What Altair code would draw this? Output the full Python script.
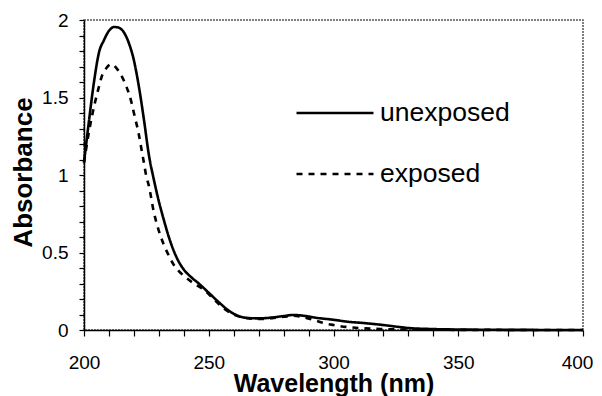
import altair as alt
import pandas as pd

# Unexposed spectrum (wavelength nm, absorbance)
wl_unexp = [200, 202, 204, 206, 208, 210, 212, 214, 216, 218, 220, 222, 224, 226, 228,
            230, 232, 234, 236, 238, 240, 243, 246, 250, 254, 258, 262, 266, 270, 275,
            280, 284, 288, 293, 300, 306, 312, 320, 326, 330, 340, 350, 370, 400]
abs_unexp = [1.08, 1.35, 1.60, 1.79, 1.87, 1.93, 1.955, 1.95, 1.92, 1.85, 1.74, 1.57, 1.36, 1.13, 0.97,
             0.83, 0.71, 0.60, 0.51, 0.44, 0.39, 0.34, 0.30, 0.24, 0.18, 0.125, 0.09, 0.077, 0.075, 0.08,
             0.09, 0.097, 0.092, 0.079, 0.066, 0.053, 0.045, 0.032, 0.02, 0.013, 0.006, 0.003, 0.001, 0.0]

# Exposed spectrum
wl_exp = [200, 202, 204, 206, 207, 209, 211, 213, 215, 217, 219, 220, 222, 223, 224, 225, 226,
          228, 230, 232, 234, 236, 238, 240, 244, 248, 252, 256, 260, 264, 268, 272, 276,
          280, 284, 288, 292, 296, 300, 305, 310, 320, 330, 350, 400]
abs_exp = [1.08, 1.28, 1.44, 1.57, 1.63, 1.69, 1.715, 1.69, 1.64, 1.57, 1.47, 1.40, 1.26, 1.17, 1.08, 0.99, 0.93,
           0.76, 0.64, 0.55, 0.48, 0.42, 0.38, 0.35, 0.30, 0.26, 0.20, 0.14, 0.10, 0.08, 0.072, 0.072, 0.078,
           0.085, 0.092, 0.082, 0.065, 0.045, 0.032, 0.02, 0.013, 0.006, 0.003, 0.001, 0.0]

series_names = ["unexposed", "exposed"]

x_ticks = list(range(200, 401, 10))
y_ticks = [round(i * 0.1, 1) for i in range(0, 21)]

df = pd.concat([
    pd.DataFrame({"wl": wl_unexp, "A": abs_unexp, "sample": series_names[0], "order": 0}),
    pd.DataFrame({"wl": wl_exp, "A": abs_exp, "sample": series_names[1], "order": 1}),
])

FONT = "Liberation Sans"

chart = alt.Chart(df).mark_line(
    color="black", strokeWidth=2.6, interpolate="monotone"
).encode(
    x=alt.X("wl:Q",
            scale=alt.Scale(domain=[200, 400], nice=False, zero=False),
            axis=alt.Axis(
                values=x_ticks,
                labelExpr="datum.value % 50 == 0 ? format(datum.value, 'd') : ''",
                labelOffset={"condition": {"test": "datum.value >= 400", "value": -6}, "value": 0},
                title="Wavelength (nm)",
                titleFontSize=25, titleFontWeight="bold", titleFont=FONT,
                titleY=41, titleBaseline="top",
                labelFontSize=19, labelFont=FONT, labelColor="black",
                labelPadding=17, ticks=True, tickSize=6, tickColor="black", tickWidth=1.2,
                domainColor="black", domainWidth=1.5, grid=False,
                labelFlush=False, labelOverlap=False,
            )),
    y=alt.Y("A:Q",
            scale=alt.Scale(domain=[0, 2], nice=False),
            axis=alt.Axis(
                values=y_ticks,
                labelExpr="abs(datum.value*2 - round(datum.value*2)) < 0.001 ? format(datum.value, '~g') : ''",
                title="Absorbance",
                titleFontSize=26, titleFontWeight="bold", titleFont=FONT,
                titleX=-53, titleY=152, titleBaseline="alphabetic", titleAngle=-90,
                labelFontSize=19, labelFont=FONT, labelColor="black",
                labelPadding=11, ticks=True, tickSize=5, tickColor="black", tickWidth=1.2,
                domainColor="black", domainWidth=1.5, grid=False,
                labelFlush=False, labelOverlap=False,
            )),
    strokeDash=alt.StrokeDash(
        "sample:N",
        scale=alt.Scale(domain=series_names, range=[[1, 0], [6, 6]]),
        legend=alt.Legend(
            title=None, orient="none", legendX=211, legendY=80,
            symbolType="stroke", symbolSize=5929, symbolStrokeWidth=2.6,
            symbolStrokeColor="black", clipHeight=26,
            labelFontSize=26.5, labelFont=FONT, labelColor="black",
            labelOffset=5, rowPadding=34, padding=0,
        ),
    ),
    order="order:Q",
    detail="sample:N",
).properties(
    width=499, height=310,
    autosize=alt.AutoSizeParams(type="none"),
    padding={"left": 76, "top": 12, "right": 11, "bottom": 72},
).configure_view(
    stroke="#555555", strokeWidth=1.5, strokeDash=[2, 1]
)

chart.save("out.html", embed_options={"renderer": "svg", "actions": False})
